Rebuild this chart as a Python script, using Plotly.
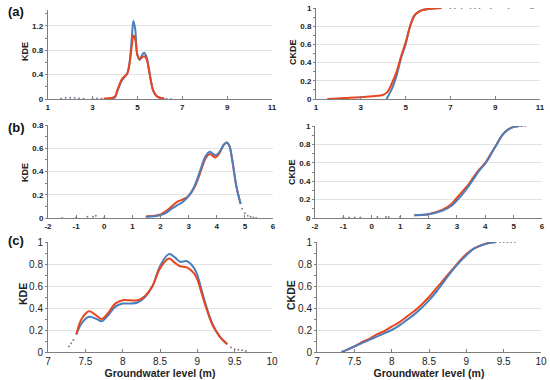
import plotly.graph_objects as go

# ---------------- DATA ----------------
# (a) KDE
a_kde_x_blue = [3.8, 4.0, 4.1, 4.3, 4.45, 4.55, 4.65, 4.75, 4.82, 4.9, 5.0, 5.1, 5.2, 5.3, 5.4, 5.5, 5.6, 5.7, 5.85, 6.0, 6.2]
a_kde_blue = [0.0, 0.03, 0.12, 0.30, 0.37, 0.42, 0.60, 1.0, 1.28, 1.15, 0.72, 0.64, 0.72, 0.76, 0.70, 0.52, 0.30, 0.14, 0.05, 0.02, 0.005]
a_kde_x_red = [3.5, 3.8, 4.0, 4.1, 4.3, 4.45, 4.55, 4.65, 4.75, 4.82, 4.9, 5.0, 5.1, 5.2, 5.3, 5.4, 5.5, 5.6, 5.7, 5.85, 6.0, 6.2]
a_kde_red = [0.01, 0.015, 0.04, 0.14, 0.32, 0.38, 0.42, 0.58, 0.88, 1.04, 0.98, 0.72, 0.66, 0.68, 0.70, 0.66, 0.50, 0.30, 0.14, 0.05, 0.02, 0.005]
a_kde_tail_x = [1.6, 1.8, 2.0, 2.2, 2.4, 2.6, 3.0, 3.2, 3.4, 6.3, 6.5]
a_kde_tail_y = [0.01, 0.02, 0.02, 0.02, 0.01, 0.005, 0.01, 0.01, 0.01, 0.003, 0.0]

# (a) CKDE
a_ck_x_red = [1.5, 2.0, 2.5, 3.0, 3.5, 4.0, 4.2, 4.4, 4.6, 4.8, 5.0, 5.2, 5.4, 5.6, 5.8, 6.0, 6.6]
a_ck_red = [0.0, 0.005, 0.015, 0.02, 0.03, 0.045, 0.08, 0.18, 0.30, 0.47, 0.62, 0.80, 0.92, 0.96, 0.98, 0.99, 1.0]
a_ck_x_blue = [4.15, 4.4, 4.6, 4.8, 5.0, 5.2, 5.4, 5.6, 5.8, 6.0, 6.6]
a_ck_blue = [0.0, 0.12, 0.26, 0.45, 0.60, 0.80, 0.92, 0.96, 0.98, 0.99, 1.0]
a_ck_tail_x = [7.0, 7.2, 7.5, 7.9, 8.1, 8.3, 8.8, 9.6, 10.6, 10.7]
a_ck_tail_y = [1.0, 1.0, 1.0, 1.0, 1.0, 1.0, 1.0, 1.0, 1.0, 1.0]

# (b) KDE
b_kde_x = [1.5, 1.8, 2.0, 2.2, 2.4, 2.6, 2.8, 3.0, 3.2, 3.4, 3.6, 3.75, 3.95, 4.1, 4.25, 4.36, 4.45, 4.55, 4.7, 4.85]
b_kde_blue = [0.01, 0.015, 0.025, 0.045, 0.08, 0.11, 0.14, 0.19, 0.27, 0.40, 0.53, 0.57, 0.54, 0.57, 0.63, 0.65, 0.62, 0.50, 0.27, 0.12]
b_kde_red = [0.015, 0.02, 0.03, 0.06, 0.10, 0.14, 0.16, 0.19, 0.26, 0.38, 0.51, 0.55, 0.52, 0.56, 0.63, 0.65, 0.62, 0.50, 0.27, 0.12]
b_kde_tail_x = [4.9, 5.0, 5.1, 5.2, 5.3, 5.4, -1.5, -1.0, -0.6, -0.4, -0.3, 0.0, 1.5]
b_kde_tail_y = [0.08, 0.04, 0.02, 0.01, 0.005, 0.0, 0.0, 0.005, 0.01, 0.01, 0.02, 0.005, 0.01]

# (b) CKDE
b_ck_x = [1.5, 2.0, 2.5, 2.8, 3.0, 3.2, 3.4, 3.6, 3.8, 4.0, 4.2, 4.4, 4.6, 4.8, 5.0, 5.2]
b_ck_red = [0.03, 0.04, 0.09, 0.15, 0.22, 0.29, 0.36, 0.45, 0.53, 0.60, 0.70, 0.80, 0.90, 0.96, 0.99, 1.0]
b_ck_blue = [0.03, 0.04, 0.08, 0.13, 0.19, 0.26, 0.34, 0.43, 0.52, 0.59, 0.69, 0.80, 0.90, 0.96, 0.99, 1.0]
b_ck_tail_x = [5.25, 5.3, 5.4, -1.0, -0.8, -0.6, -0.4, 0.2, 0.5, 0.6, 1.0]
b_ck_tail_y = [1.0, 1.0, 1.0, 0.005, 0.005, 0.005, 0.005, 0.01, 0.01, 0.01, 0.01]

# (c) KDE
c_kde_x = [7.38, 7.45, 7.55, 7.65, 7.72, 7.8, 7.9, 8.0, 8.1, 8.2, 8.3, 8.4, 8.5, 8.62, 8.7, 8.77, 8.86, 8.95, 9.0, 9.05, 9.1, 9.2, 9.3, 9.4]
c_kde_blue = [0.16, 0.26, 0.32, 0.30, 0.28, 0.33, 0.41, 0.44, 0.44, 0.45, 0.50, 0.60, 0.78, 0.89, 0.86, 0.82, 0.825, 0.77, 0.70, 0.58, 0.46, 0.26, 0.14, 0.07]
c_kde_red = [0.16, 0.30, 0.37, 0.33, 0.30, 0.35, 0.44, 0.47, 0.47, 0.47, 0.51, 0.60, 0.76, 0.85, 0.81, 0.78, 0.77, 0.72, 0.66, 0.55, 0.44, 0.25, 0.14, 0.07]
c_kde_tail_x = [7.28, 7.31, 7.34, 9.45, 9.5, 9.55, 9.6, 9.65]
c_kde_tail_y = [0.05, 0.08, 0.11, 0.04, 0.025, 0.02, 0.015, 0.01]

# (c) CKDE
c_ck_x = [7.33, 7.4, 7.5, 7.6, 7.7, 7.8, 7.9, 8.0, 8.1, 8.2, 8.3, 8.4, 8.5, 8.6, 8.7, 8.8, 8.9, 9.0, 9.1, 9.2, 9.3, 9.4]
c_ck_red = [0.0, 0.02, 0.05, 0.09, 0.12, 0.16, 0.19, 0.23, 0.27, 0.32, 0.37, 0.43, 0.50, 0.58, 0.66, 0.74, 0.82, 0.89, 0.94, 0.97, 0.99, 1.0]
c_ck_blue = [0.0, 0.02, 0.05, 0.08, 0.11, 0.14, 0.17, 0.20, 0.24, 0.29, 0.34, 0.40, 0.47, 0.55, 0.64, 0.73, 0.81, 0.88, 0.94, 0.97, 0.99, 1.0]
c_ck_tail_x = [9.45, 9.5, 9.55, 9.6, 9.65]
c_ck_tail_y = [1.0, 1.0, 1.0, 1.0, 1.0]

panel_labels = ["(a)", "(b)", "(c)"]
xlabel = "Groundwater level (m)"

# ---------------- STYLE ----------------
BLUE = "#4a7ebd"
RED = "#e8461e"
DOT = "#8c7f99"
GRID = "#e3e3e3"
AXC = "#7f7f7f"
FONT = "Liberation Sans"
W, H = 550, 380

fig = go.Figure()

def px_dom_x(l, r):
    return [l / W, r / W]

def px_dom_y(bottom, top):
    return [1 - bottom / H, 1 - top / H]

panels = [
    dict(k="1", xd=px_dom_x(47.7, 272), yd=px_dom_y(99, 10), xr=[1, 11], xt=[1, 3, 5, 7, 9, 11],
         yr=[0, 1.46], yt=[0, 0.4, 0.8, 1.2], yl=["0", "0.4", "0.8", "1.2"], title="KDE", big=False, ymin=0.2,
         tx=25, ty=52),
    dict(k="2", xd=px_dom_x(316, 540), yd=px_dom_y(99, 8), xr=[1, 11], xt=[1, 3, 5, 7, 9, 11],
         yr=[0, 1.0], yt=[0, 0.2, 0.4, 0.6, 0.8, 1], yl=["0", "0.2", "0.4", "0.6", "0.8", "1"], title="CKDE", big=False, ymin=0.1,
         tx=293, ty=52),
    dict(k="3", xd=px_dom_x(48, 273), yd=px_dom_y(218, 125), xr=[-2, 6], xt=list(range(-2, 7)),
         yr=[0, 0.8], yt=[0, 0.2, 0.4, 0.6, 0.8], yl=["0", "0.2", "0.4", "0.6", "0.8"], title="KDE", big=False, ymin=0.1,
         tx=25, ty=173),
    dict(k="4", xd=px_dom_x(315, 542), yd=px_dom_y(218, 126), xr=[-2, 6], xt=list(range(-2, 7)),
         yr=[0, 1.0], yt=[0, 0.2, 0.4, 0.6, 0.8, 1], yl=["0", "0.2", "0.4", "0.6", "0.8", "1"], title="CKDE", big=False, ymin=0.1,
         tx=292, ty=172),
    dict(k="5", xd=px_dom_x(48, 272), yd=px_dom_y(352, 242), xr=[7, 10], xt=[7, 7.5, 8, 8.5, 9, 9.5, 10],
         yr=[0, 1.0], yt=[0, 0.2, 0.4, 0.6, 0.8, 1], yl=["0", "0.2", "0.4", "0.6", "0.8", "1"], title="KDE", big=True, ymin=0.1,
         tx=23, ty=294),
    dict(k="6", xd=px_dom_x(317, 541), yd=px_dom_y(352, 242), xr=[7, 10], xt=[7, 7.5, 8, 8.5, 9, 9.5, 10],
         yr=[0, 1.0], yt=[0, 0.2, 0.4, 0.6, 0.8, 1], yl=["0", "0.2", "0.4", "0.6", "0.8", "1"], title="CKDE", big=True, ymin=0.1,
         tx=291, ty=295),
]

layout_axes = {}
annotations = []
for p in panels:
    k = p["k"]
    xname = "xaxis" if k == "1" else "xaxis" + k
    yname = "yaxis" if k == "1" else "yaxis" + k
    xref = "x" if k == "1" else "x" + k
    yref = "y" if k == "1" else "y" + k
    if p["big"]:
        tickfont = dict(family=FONT, size=10, color="#222")
        titlefont = dict(family=FONT, size=10.5, color="#222")
    else:
        tickfont = dict(family=FONT, size=8, color="#222", weight="bold")
        titlefont = dict(family=FONT, size=9, color="#222")
    xt_text = [("%g" % v) for v in p["xt"]]
    layout_axes[xname] = dict(
        domain=p["xd"], range=p["xr"], anchor=yref, tickmode="array", tickvals=p["xt"], ticktext=xt_text,
        showgrid=False, zeroline=False, showline=True, linecolor=AXC, linewidth=1, automargin=False,
        ticks="inside", ticklen=3, tickcolor=AXC, tickfont=tickfont,
        title=dict(text="<b>" + xlabel + "</b>" if p["big"] else "", font=dict(family=FONT, size=10.5, color="#222"), standoff=0),
    )
    layout_axes[yname] = dict(
        domain=p["yd"], range=p["yr"], anchor=xref, tickmode="array", tickvals=p["yt"], ticktext=p["yl"],
        showgrid=True, gridcolor=GRID, gridwidth=1, zeroline=False, showline=True, linecolor=AXC, linewidth=1,
        automargin=False,
        ticks="outside", ticklen=2, tickcolor=AXC, tickfont=tickfont,
        minor=dict(dtick=p["ymin"], ticks="outside", ticklen=2, tickcolor=AXC, showgrid=False),
    )
    annotations.append(dict(text="<b>" + p["title"] + "</b>", x=p["tx"] / W, y=1 - p["ty"] / H,
                            xref="paper", yref="paper", xanchor="center", yanchor="middle",
                            textangle=-90, showarrow=False, font=titlefont))

def add_line(k, x, y, color, width=2):
    xref = "x" if k == "1" else "x" + k
    yref = "y" if k == "1" else "y" + k
    fig.add_trace(go.Scatter(x=x, y=y, mode="lines", line=dict(color=color, width=width, shape="spline", smoothing=1.0),
                             xaxis=xref, yaxis=yref, showlegend=False, hoverinfo="skip", cliponaxis=False))

def add_dots(k, x, y):
    xref = "x" if k == "1" else "x" + k
    yref = "y" if k == "1" else "y" + k
    fig.add_trace(go.Scatter(x=x, y=y, mode="markers", marker=dict(color=DOT, size=2),
                             xaxis=xref, yaxis=yref, showlegend=False, hoverinfo="skip"))

# (a)
add_dots("1", a_kde_tail_x, a_kde_tail_y)
add_line("1", a_kde_x_blue, a_kde_blue, BLUE)
add_line("1", a_kde_x_red, a_kde_red, RED)
add_dots("2", a_ck_tail_x, a_ck_tail_y)
add_line("2", a_ck_x_blue, a_ck_blue, BLUE)
add_line("2", a_ck_x_red, a_ck_red, RED)
# (b)
add_dots("3", b_kde_tail_x, b_kde_tail_y)
add_line("3", b_kde_x, b_kde_red, RED)
add_line("3", b_kde_x, b_kde_blue, BLUE)
add_dots("4", b_ck_tail_x, b_ck_tail_y)
add_line("4", b_ck_x, b_ck_red, RED)
add_line("4", b_ck_x, b_ck_blue, BLUE)
# (c)
add_dots("5", c_kde_tail_x, c_kde_tail_y)
add_line("5", c_kde_x, c_kde_blue, BLUE)
add_line("5", c_kde_x, c_kde_red, RED)
add_dots("6", c_ck_tail_x, c_ck_tail_y)
add_line("6", c_ck_x, c_ck_red, RED)
add_line("6", c_ck_x, c_ck_blue, BLUE)

for lab, ypix in zip(panel_labels, [12, 127, 240]):
    annotations.append(dict(text="<b>" + lab + "</b>", x=6 / W, y=1 - ypix / H, xref="paper", yref="paper",
                            xanchor="left", yanchor="middle", showarrow=False,
                            font=dict(family=FONT, size=13, color="#111")))

fig.update_layout(
    width=W, height=H, margin=dict(l=0, r=0, t=0, b=0),
    paper_bgcolor="white", plot_bgcolor="white",
    annotations=annotations, **layout_axes,
)

fig.write_html("out.html", config={"displayModeBar": False},
               post_script="document.body.style.margin='0';document.body.style.padding='0';")
